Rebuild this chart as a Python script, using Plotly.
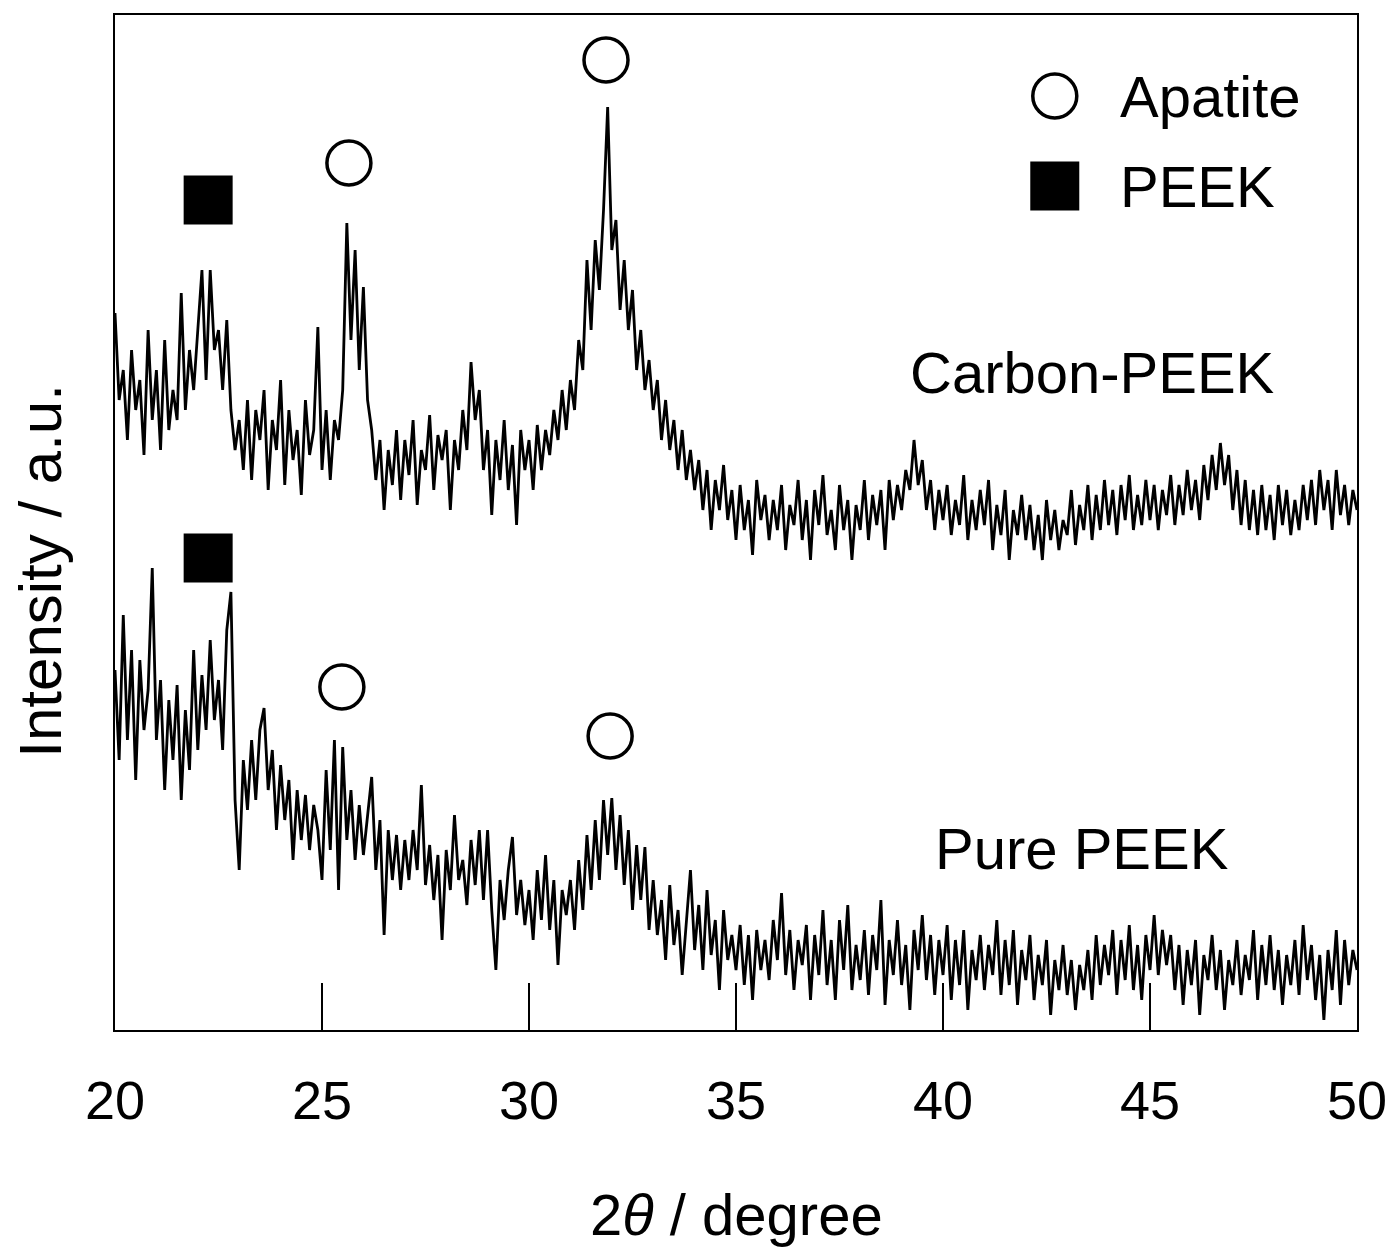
import numpy as np
import plotly.graph_objects as go

# 2theta grid, 0.1 degree steps from 20 to 50
two_theta = np.linspace(20, 50, 301)

# Intensity (a.u.), one row per degree
carbon_peek = [
    717, 630, 660, 590, 680, 620, 650, 575, 700, 610,
    660, 580, 690, 600, 640, 610, 737, 620, 680, 640,
    700, 760, 650, 760, 680, 700, 640, 710, 620, 580,
    610, 560, 630, 550, 620, 590, 640, 540, 610, 580,
    650, 545, 620, 570, 600, 535, 630, 575, 600, 703,
    560, 620, 550, 610, 590, 640, 807, 690, 780, 660,
    743, 630, 600, 550, 590, 520, 580, 545, 600, 530,
    590, 555, 610, 525, 580, 560, 615, 540, 595, 570,
    600, 520, 590, 560, 620, 580, 668, 610, 640, 560,
    600, 515, 590, 550, 610, 540, 585, 505, 600, 560,
    590, 540, 605, 560, 600, 575, 620, 590, 640, 600,
    650, 620, 690, 660, 770, 700, 790, 740, 820, 923,
    780, 810, 720, 770, 700, 740, 660, 700, 640, 670,
    620, 650, 590, 630, 580, 610, 560, 600, 550, 580,
    540, 570, 520, 560, 500, 550, 520, 565, 510, 540,
    490, 545, 500, 530, 475, 550, 510, 535, 490, 530,
    500, 545, 480, 525, 505, 550, 490, 530, 470, 540,
    505, 555, 495, 520, 480, 545, 500, 530, 470, 525,
    500, 550, 490, 535, 505, 540, 480, 550, 510, 545,
    520, 560, 540, 590, 545, 570, 520, 550, 500, 540,
    510, 545, 495, 530, 505, 555, 490, 530, 500, 540,
    505, 550, 480, 525, 495, 540, 470, 520, 495, 535,
    490, 525, 480, 515, 470, 530, 490, 520, 480, 510,
    495, 540, 485, 525, 500, 545, 490, 535, 500, 550,
    505, 540, 495, 545, 510, 555, 500, 535, 505, 550,
    510, 545, 500, 540, 515, 555, 505, 545, 515, 560,
    520, 550, 510, 565, 530, 575, 540, 587, 545, 575,
    520, 560, 505, 550, 500, 540, 495, 545, 500, 535,
    490, 545, 505, 540, 495, 530, 500, 545, 510, 550,
    505, 560, 520, 550, 500, 560, 515, 545, 505, 540,
    520,
]

pure_peek = [
    360, 270, 415, 290, 380, 250, 370, 300, 340, 462,
    290, 350, 240, 330, 270, 345, 230, 320, 260, 380,
    280, 355, 300, 390, 310, 350, 280, 400, 438, 230,
    160, 270, 220, 290, 230, 300, 322, 240, 280, 200,
    265, 210, 250, 170, 240, 190, 235, 180, 225, 200,
    150, 260, 180, 290, 140, 283, 190, 240, 170, 225,
    175, 215, 253, 160, 210, 95, 200, 150, 195, 140,
    190, 150, 200, 160, 245, 145, 185, 130, 175, 90,
    180, 140, 215, 150, 170, 125, 190, 145, 200, 130,
    200, 120, 60, 150, 110, 160, 193, 115, 150, 105,
    140, 90, 160, 110, 175, 100, 150, 65, 140, 115,
    150, 100, 170, 120, 195, 140, 210, 150, 230, 175,
    232, 160, 215, 145, 200, 120, 185, 130, 183, 100,
    150, 95, 130, 70, 145, 85, 120, 55, 110, 160,
    80, 125, 60, 140, 75, 110, 40, 120, 70, 95,
    60, 105, 45, 95, 30, 100, 60, 90, 50, 110,
    70, 137, 55, 100, 40, 90, 65, 105, 30, 95,
    55, 120, 45, 90, 30, 110, 60, 125, 40, 85,
    50, 100, 35, 95, 60, 130, 25, 90, 55, 110,
    45, 85, 20, 100, 60, 115, 50, 95, 35, 90,
    55, 105, 30, 90, 45, 100, 20, 80, 50, 95,
    40, 85, 55, 110, 35, 90, 45, 100, 25, 80,
    50, 95, 30, 75, 45, 90, 15, 70, 40, 85,
    35, 70, 20, 65, 40, 80, 30, 95, 45, 85,
    55, 100, 35, 90, 50, 105, 40, 85, 30, 95,
    60, 115, 55, 100, 65, 95, 40, 85, 25, 80,
    45, 90, 15, 75, 50, 95, 40, 80, 20, 70,
    45, 90, 35, 75, 50, 100, 30, 85, 45, 95,
    40, 80, 25, 75, 45, 90, 35, 105, 50, 85,
    30, 75, 10, 80, 40, 100, 25, 90, 45, 80,
    60,
]

# Peak markers (position in 2theta, height in a.u.)
apatite_x = [25.65, 31.86, 25.48, 31.96]
apatite_y = [867, 970, 343, 294]
peek_x = [22.25, 22.25]
peek_y = [830, 472]

FONT = "Liberation Sans, Arial, sans-serif"

fig = go.Figure()

fig.add_trace(go.Scatter(x=two_theta, y=carbon_peek, mode="lines",
                         line=dict(color="black", width=2.8), name="Carbon-PEEK"))
fig.add_trace(go.Scatter(x=two_theta, y=pure_peek, mode="lines",
                         line=dict(color="black", width=2.8), name="Pure PEEK"))

fig.add_trace(go.Scatter(x=apatite_x, y=apatite_y, mode="markers",
                         marker=dict(symbol="circle-open", size=44, color="black",
                                     line=dict(width=3.5, color="black"))))
fig.add_trace(go.Scatter(x=peek_x, y=peek_y, mode="markers",
                         marker=dict(symbol="square", size=49, color="black")))

# Hand-made legend in the upper right
fig.add_trace(go.Scatter(x=[42.7], y=[934], mode="markers",
                         marker=dict(symbol="circle-open", size=44, color="black",
                                     line=dict(width=3.5, color="black"))))
fig.add_trace(go.Scatter(x=[42.7], y=[844], mode="markers",
                         marker=dict(symbol="square", size=49, color="black")))

labels = [
    dict(x=44.23, y=934, text="Apatite", xanchor="left"),
    dict(x=44.23, y=844, text="PEEK", xanchor="left"),
    dict(x=43.6, y=658, text="Carbon-PEEK", xanchor="center"),
    dict(x=43.36, y=182, text="Pure PEEK", xanchor="center"),
]
for lab in labels:
    fig.add_annotation(x=lab["x"], y=lab["y"], text=lab["text"], xanchor=lab["xanchor"],
                       yanchor="middle", showarrow=False,
                       font=dict(family=FONT, size=58, color="black"))

# Axis titles
fig.add_annotation(x=0.5, y=-0.182, xref="paper", yref="paper", text="2<i>θ</i> / degree",
                   showarrow=False, xanchor="center", yanchor="middle",
                   font=dict(family=FONT, size=58, color="black"))
fig.add_annotation(x=-0.06, y=0.453, xref="paper", yref="paper", text="Intensity / a.u.",
                   textangle=-90, showarrow=False, xanchor="center", yanchor="middle",
                   font=dict(family=FONT, size=60, color="black"))

fig.update_layout(
    width=1392, height=1250,
    margin=dict(l=115, r=35, t=15, b=220),
    plot_bgcolor="white", paper_bgcolor="white",
    showlegend=False,
    font=dict(family=FONT, size=54, color="black"),
    xaxis=dict(range=[20, 50], tickvals=[20, 25, 30, 35, 40, 45, 50],
               ticks="inside", ticklen=47, tickwidth=2, tickcolor="black",
               ticklabelstandoff=22, automargin=False,
               showline=True, linewidth=2, linecolor="black", mirror=True,
               showgrid=False, zeroline=False),
    yaxis=dict(range=[0, 1015], showticklabels=False, ticks="", automargin=False,
               showline=True, linewidth=2, linecolor="black", mirror=True,
               showgrid=False, zeroline=False),
)

# drop the browser's default body margin so the figure sits at the page corner
fig.write_html("out.html", config={"displayModeBar": False},
               post_script="document.body.style.margin='0';")
